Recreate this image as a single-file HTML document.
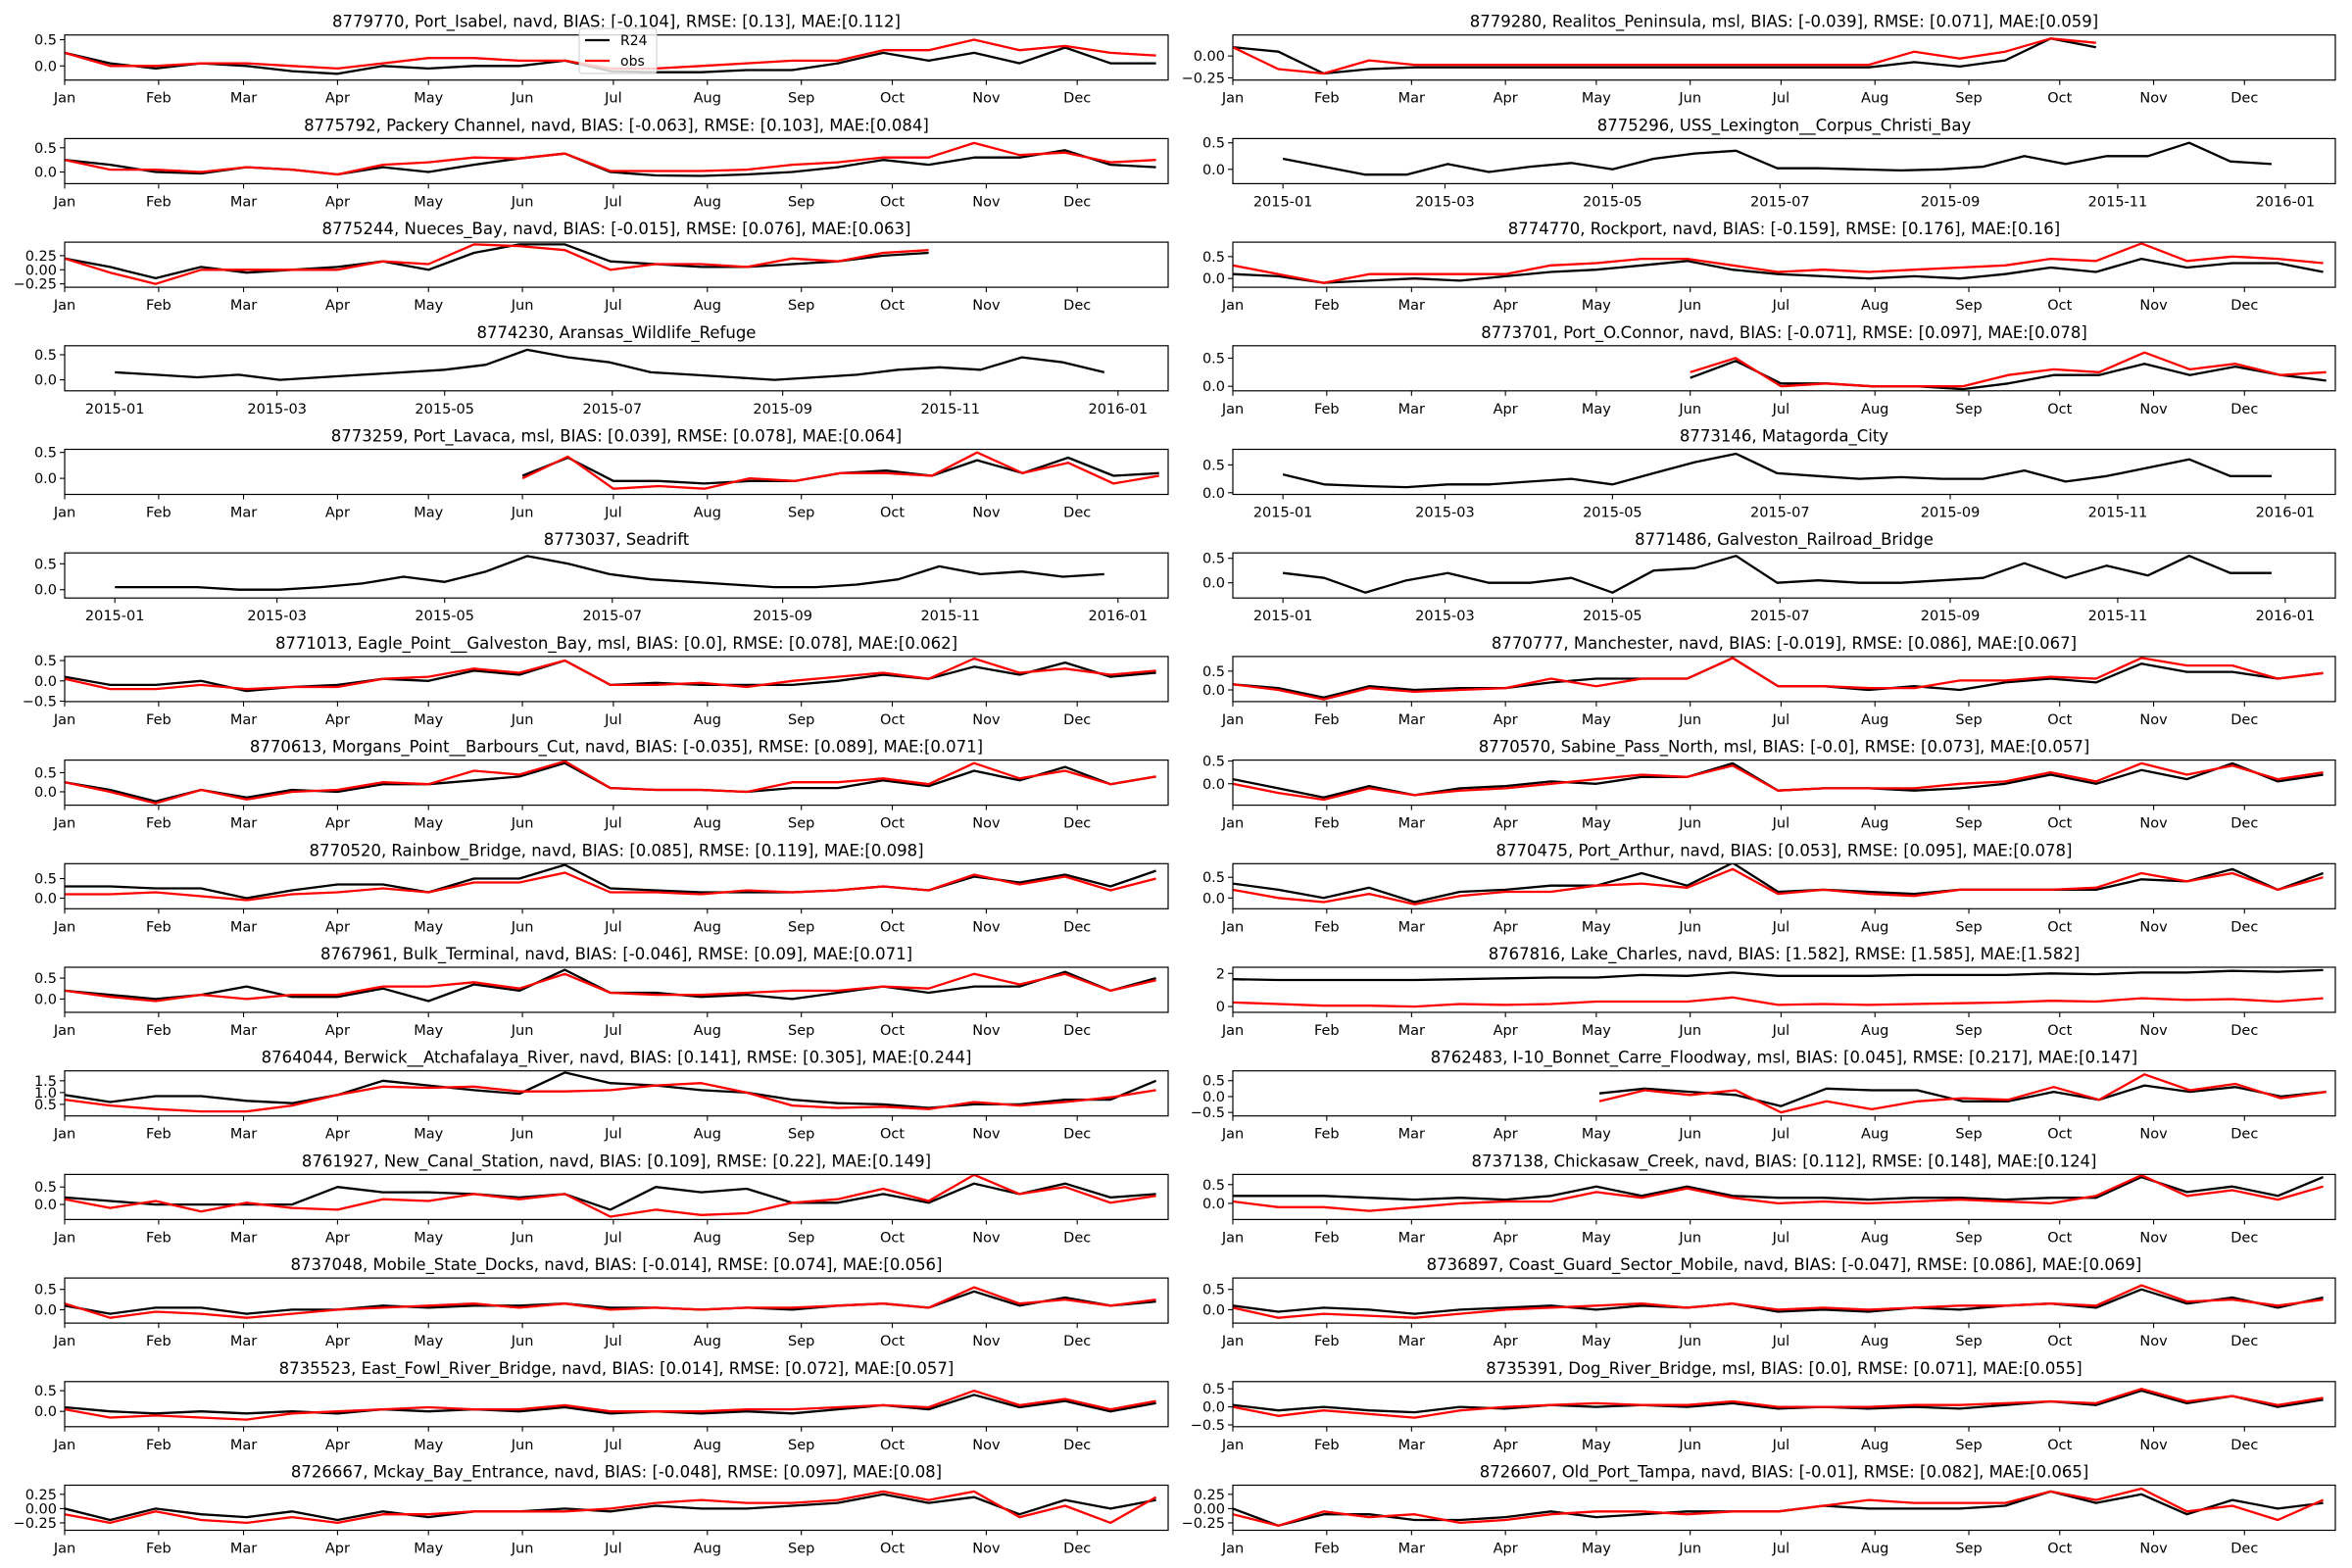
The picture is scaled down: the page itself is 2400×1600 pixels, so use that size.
<!DOCTYPE html>
<html><head><meta charset="utf-8"><style>
html,body{margin:0;padding:0;background:#fff;}
svg{display:block;font-family:"DejaVu Sans","Liberation Sans",sans-serif;}
</style></head><body>
<svg id="fig" width="2400" height="1600" viewBox="0 0 2400 1600"></svg>
<script>
// ---- data (values every 15 days from start day) ----
const r24_8779770=[0.25,0.05,-0.05,0.05,0.0,-0.1,-0.15,0.0,-0.05,0.0,0.0,0.1,-0.1,-0.12,-0.12,-0.08,-0.08,0.05,0.25,0.1,0.25,0.05,0.35,0.05,0.05];
const obs_8779770=[0.25,0.0,0.0,0.05,0.05,0.0,-0.05,0.05,0.15,0.15,0.1,0.1,-0.05,-0.05,0.0,0.05,0.1,0.1,0.3,0.3,0.5,0.3,0.38,0.25,0.2];
const r24_8775792=[0.25,0.15,0.0,-0.03,0.1,0.05,-0.05,0.1,0.0,0.15,0.28,0.38,0.0,-0.07,-0.08,-0.05,0.0,0.1,0.25,0.15,0.3,0.3,0.45,0.15,0.1];
const obs_8775792=[0.25,0.05,0.05,0.0,0.1,0.05,-0.05,0.15,0.2,0.3,0.28,0.38,0.02,0.02,0.02,0.05,0.15,0.2,0.3,0.3,0.6,0.35,0.4,0.2,0.25];
const r24_8775244=[0.2,0.05,-0.15,0.05,-0.05,0.0,0.05,0.15,0.0,0.3,0.45,0.45,0.15,0.1,0.05,0.05,0.1,0.15,0.25,0.3];
const obs_8775244=[0.2,-0.05,-0.25,0.0,0.0,0.0,0.0,0.15,0.1,0.45,0.42,0.35,0.0,0.1,0.1,0.05,0.2,0.15,0.3,0.35];
const r24_8774230=[0.15,0.1,0.05,0.1,0.0,0.05,0.1,0.15,0.2,0.3,0.6,0.45,0.35,0.15,0.1,0.05,0.0,0.05,0.1,0.2,0.25,0.2,0.45,0.35,0.15];
const r24_8773259=[0.05,0.4,-0.05,-0.05,-0.1,-0.05,-0.05,0.1,0.15,0.05,0.35,0.1,0.4,0.05,0.1];
const obs_8773259=[0.0,0.42,-0.2,-0.15,-0.2,0.0,-0.05,0.1,0.1,0.05,0.5,0.1,0.3,-0.1,0.05];
const r24_8773037=[0.05,0.05,0.05,0.0,0.0,0.05,0.12,0.25,0.15,0.35,0.65,0.5,0.3,0.2,0.15,0.1,0.05,0.05,0.1,0.2,0.45,0.3,0.35,0.25,0.3];
const r24_8771013=[0.1,-0.1,-0.1,0.0,-0.25,-0.15,-0.1,0.05,0.0,0.25,0.15,0.5,-0.1,-0.05,-0.1,-0.1,-0.1,0.0,0.15,0.05,0.35,0.15,0.45,0.1,0.2];
const obs_8771013=[0.05,-0.2,-0.2,-0.1,-0.2,-0.15,-0.15,0.05,0.1,0.3,0.2,0.5,-0.1,-0.1,-0.05,-0.15,0.0,0.1,0.2,0.05,0.55,0.2,0.3,0.15,0.25];
const r24_8770613=[0.25,0.05,-0.25,0.05,-0.15,0.05,0.0,0.2,0.2,0.3,0.4,0.75,0.1,0.05,0.05,0.0,0.1,0.1,0.3,0.15,0.55,0.3,0.65,0.2,0.4];
const obs_8770613=[0.25,0.0,-0.3,0.05,-0.2,0.0,0.05,0.25,0.2,0.55,0.45,0.8,0.1,0.05,0.05,0.0,0.25,0.25,0.35,0.2,0.75,0.35,0.55,0.2,0.4];
const r24_8770520=[0.3,0.3,0.25,0.25,0.0,0.2,0.35,0.35,0.15,0.5,0.5,0.85,0.25,0.2,0.15,0.15,0.15,0.2,0.3,0.2,0.55,0.4,0.6,0.3,0.7];
const obs_8770520=[0.1,0.1,0.15,0.05,-0.05,0.1,0.15,0.25,0.15,0.4,0.4,0.65,0.15,0.15,0.1,0.2,0.15,0.2,0.3,0.2,0.6,0.35,0.55,0.2,0.5];
const r24_8767961=[0.2,0.1,0.0,0.1,0.3,0.05,0.05,0.25,-0.05,0.35,0.2,0.7,0.15,0.15,0.05,0.1,0.0,0.15,0.3,0.15,0.3,0.3,0.65,0.2,0.5];
const obs_8767961=[0.2,0.05,-0.05,0.1,0.0,0.1,0.1,0.3,0.3,0.4,0.25,0.6,0.15,0.1,0.1,0.15,0.2,0.2,0.3,0.25,0.6,0.35,0.6,0.2,0.45];
const r24_8764044=[0.9,0.6,0.85,0.85,0.65,0.55,0.9,1.5,1.3,1.1,0.95,1.85,1.4,1.3,1.1,1.0,0.7,0.55,0.5,0.35,0.5,0.5,0.7,0.7,1.5];
const obs_8764044=[0.7,0.45,0.3,0.2,0.2,0.45,0.9,1.25,1.2,1.25,1.05,1.05,1.1,1.3,1.4,1.0,0.45,0.35,0.4,0.3,0.6,0.45,0.6,0.8,1.1];
const r24_8761927=[0.2,0.1,0.0,0.0,0.0,0.0,0.5,0.35,0.35,0.3,0.2,0.3,-0.15,0.5,0.35,0.45,0.05,0.05,0.3,0.05,0.6,0.3,0.6,0.2,0.3];
const obs_8761927=[0.15,-0.1,0.1,-0.2,0.05,-0.1,-0.15,0.15,0.1,0.3,0.15,0.3,-0.35,-0.15,-0.3,-0.25,0.05,0.15,0.45,0.1,0.85,0.3,0.5,0.05,0.25];
const r24_8737048=[0.1,-0.1,0.05,0.05,-0.1,0.0,0.0,0.1,0.05,0.1,0.1,0.15,0.05,0.05,0.0,0.05,0.0,0.1,0.15,0.05,0.45,0.1,0.3,0.1,0.2];
const obs_8737048=[0.15,-0.2,-0.05,-0.1,-0.2,-0.1,0.0,0.05,0.1,0.15,0.05,0.15,0.0,0.05,0.0,0.05,0.05,0.1,0.15,0.05,0.55,0.15,0.25,0.1,0.25];
const r24_8735523=[0.1,0.0,-0.05,0.0,-0.05,0.0,-0.05,0.05,0.0,0.05,0.0,0.1,-0.05,0.0,-0.05,0.0,-0.05,0.05,0.15,0.05,0.4,0.1,0.25,0.0,0.2];
const obs_8735523=[0.05,-0.15,-0.1,-0.15,-0.2,-0.05,0.0,0.05,0.1,0.05,0.05,0.15,0.0,0.0,0.0,0.05,0.05,0.1,0.15,0.1,0.5,0.15,0.3,0.05,0.25];
const r24_8726667=[0.0,-0.2,0.0,-0.1,-0.15,-0.05,-0.2,-0.05,-0.15,-0.05,-0.05,0.0,-0.05,0.05,0.0,0.0,0.05,0.1,0.25,0.1,0.2,-0.1,0.15,0.0,0.15];
const obs_8726667=[-0.1,-0.25,-0.05,-0.2,-0.25,-0.15,-0.25,-0.1,-0.1,-0.05,-0.05,-0.05,0.0,0.1,0.15,0.1,0.1,0.15,0.3,0.15,0.3,-0.15,0.05,-0.25,0.2];
const r24_8779280=[0.1,0.05,-0.2,-0.15,-0.13,-0.13,-0.13,-0.13,-0.13,-0.13,-0.13,-0.13,-0.13,-0.13,-0.13,-0.07,-0.12,-0.05,0.2,0.1];
const obs_8779280=[0.1,-0.15,-0.2,-0.05,-0.1,-0.1,-0.1,-0.1,-0.1,-0.1,-0.1,-0.1,-0.1,-0.1,-0.1,0.05,-0.03,0.05,0.2,0.15];
const r24_8775296=[0.2,0.05,-0.1,-0.1,0.1,-0.05,0.05,0.12,0.0,0.2,0.3,0.35,0.02,0.02,0.0,-0.02,0.0,0.05,0.25,0.1,0.25,0.25,0.5,0.15,0.1];
const r24_8774770=[0.1,0.05,-0.1,-0.05,0.0,-0.05,0.05,0.15,0.2,0.3,0.4,0.2,0.1,0.05,0.0,0.05,0.0,0.1,0.25,0.15,0.45,0.25,0.35,0.35,0.15];
const obs_8774770=[0.3,0.1,-0.1,0.1,0.1,0.1,0.1,0.3,0.35,0.45,0.45,0.3,0.15,0.2,0.15,0.2,0.25,0.3,0.45,0.4,0.8,0.4,0.5,0.45,0.35];
const r24_8773701=[0.15,0.45,0.05,0.05,0.0,0.0,-0.05,0.05,0.2,0.2,0.4,0.2,0.35,0.2,0.1];
const obs_8773701=[0.25,0.5,0.0,0.05,0.0,0.0,0.0,0.2,0.3,0.25,0.6,0.3,0.4,0.2,0.25];
const r24_8773146=[0.33,0.15,0.12,0.1,0.15,0.15,0.2,0.25,0.15,0.35,0.55,0.7,0.35,0.3,0.25,0.28,0.25,0.25,0.4,0.2,0.3,0.45,0.6,0.3,0.3];
const r24_8771486=[0.2,0.1,-0.2,0.05,0.2,0.0,0.0,0.1,-0.2,0.25,0.3,0.55,0.0,0.05,0.0,0.0,0.05,0.1,0.4,0.1,0.35,0.15,0.55,0.2,0.2];
const r24_8770777=[0.15,0.05,-0.2,0.1,0.0,0.05,0.05,0.2,0.3,0.3,0.3,0.85,0.1,0.1,0.0,0.1,0.0,0.2,0.3,0.2,0.7,0.48,0.48,0.3,0.45];
const obs_8770777=[0.15,0.0,-0.25,0.05,-0.05,0.0,0.05,0.3,0.1,0.3,0.3,0.85,0.1,0.1,0.05,0.05,0.25,0.25,0.35,0.3,0.85,0.65,0.65,0.3,0.45];
const r24_8770570=[0.1,-0.1,-0.3,-0.05,-0.25,-0.1,-0.05,0.05,0.0,0.15,0.15,0.45,-0.15,-0.1,-0.1,-0.15,-0.1,0.0,0.2,0.0,0.3,0.1,0.45,0.05,0.2];
const obs_8770570=[0.0,-0.2,-0.35,-0.1,-0.25,-0.15,-0.1,0.0,0.1,0.2,0.15,0.4,-0.15,-0.1,-0.1,-0.1,0.0,0.05,0.25,0.05,0.45,0.2,0.4,0.1,0.25];
const r24_8770475=[0.35,0.2,0.0,0.25,-0.1,0.15,0.2,0.3,0.3,0.6,0.3,0.85,0.15,0.2,0.15,0.1,0.2,0.2,0.2,0.2,0.45,0.4,0.7,0.2,0.6];
const obs_8770475=[0.2,0.0,-0.1,0.1,-0.15,0.05,0.15,0.15,0.3,0.35,0.25,0.7,0.1,0.2,0.1,0.05,0.2,0.2,0.2,0.25,0.6,0.4,0.6,0.2,0.5];
const r24_8767816=[1.65,1.6,1.6,1.6,1.6,1.65,1.7,1.75,1.75,1.9,1.85,2.05,1.85,1.85,1.85,1.9,1.9,1.9,2.0,1.95,2.05,2.05,2.15,2.1,2.2];
const obs_8767816=[0.25,0.15,0.05,0.05,0.0,0.15,0.1,0.15,0.3,0.3,0.3,0.55,0.1,0.15,0.1,0.15,0.2,0.25,0.35,0.3,0.5,0.4,0.45,0.3,0.5];
const r24_8762483=[0.1,0.25,0.15,0.05,-0.3,0.25,0.2,0.2,-0.15,-0.15,0.15,-0.1,0.35,0.15,0.3,0.0,0.15];
const obs_8762483=[-0.15,0.2,0.05,0.2,-0.5,-0.15,-0.4,-0.15,-0.05,-0.1,0.3,-0.1,0.7,0.2,0.4,-0.05,0.15];
const r24_8737138=[0.2,0.2,0.2,0.15,0.1,0.15,0.1,0.2,0.45,0.2,0.45,0.2,0.15,0.15,0.1,0.15,0.15,0.1,0.15,0.15,0.7,0.3,0.45,0.2,0.7];
const obs_8737138=[0.05,-0.1,-0.1,-0.2,-0.1,0.0,0.05,0.05,0.3,0.15,0.4,0.15,0.0,0.05,0.0,0.05,0.1,0.05,0.0,0.2,0.75,0.2,0.35,0.1,0.45];
const r24_8736897=[0.1,-0.05,0.05,0.0,-0.1,0.0,0.05,0.1,0.0,0.1,0.05,0.15,-0.05,0.0,-0.05,0.05,0.0,0.1,0.15,0.05,0.5,0.15,0.3,0.05,0.3];
const obs_8736897=[0.05,-0.2,-0.1,-0.15,-0.2,-0.1,0.0,0.05,0.1,0.15,0.05,0.15,0.0,0.05,0.0,0.05,0.1,0.1,0.15,0.1,0.6,0.2,0.25,0.1,0.25];
const r24_8735391=[0.05,-0.1,0.0,-0.1,-0.15,0.0,-0.05,0.05,0.0,0.05,0.0,0.1,-0.05,0.0,-0.05,0.0,-0.05,0.05,0.15,0.05,0.45,0.1,0.3,0.0,0.2];
const obs_8735391=[0.0,-0.25,-0.1,-0.2,-0.3,-0.1,0.0,0.05,0.1,0.05,0.05,0.15,0.0,0.0,0.0,0.05,0.05,0.1,0.15,0.1,0.5,0.15,0.3,0.05,0.25];
const r24_8726607=[0.0,-0.3,-0.1,-0.1,-0.2,-0.2,-0.15,-0.05,-0.15,-0.1,-0.05,-0.05,-0.05,0.05,0.0,0.0,0.0,0.05,0.3,0.1,0.25,-0.1,0.15,0.0,0.1];
const obs_8726607=[-0.1,-0.3,-0.05,-0.15,-0.1,-0.25,-0.2,-0.1,-0.05,-0.05,-0.1,-0.05,-0.05,0.05,0.15,0.1,0.1,0.1,0.3,0.15,0.35,-0.05,0.05,-0.2,0.15];

const monthLabels=["Jan","Feb","Mar","Apr","May","Jun","Jul","Aug","Sep","Oct","Nov","Dec"];
const monthDays=[0,31,59,90,120,151,181,212,243,273,304,334];
const dateLabels=["2015-01","2015-03","2015-05","2015-07","2015-09","2015-11","2016-01"];
const dateDays=[0,59,120,181,243,304,365];

const titles=[
"8779770, Port_Isabel, navd, BIAS: [-0.104], RMSE: [0.13], MAE:[0.112]",
"8779280, Realitos_Peninsula, msl, BIAS: [-0.039], RMSE: [0.071], MAE:[0.059]",
"8775792, Packery Channel, navd, BIAS: [-0.063], RMSE: [0.103], MAE:[0.084]",
"8775296, USS_Lexington__Corpus_Christi_Bay",
"8775244, Nueces_Bay, navd, BIAS: [-0.015], RMSE: [0.076], MAE:[0.063]",
"8774770, Rockport, navd, BIAS: [-0.159], RMSE: [0.176], MAE:[0.16]",
"8774230, Aransas_Wildlife_Refuge",
"8773701, Port_O.Connor, navd, BIAS: [-0.071], RMSE: [0.097], MAE:[0.078]",
"8773259, Port_Lavaca, msl, BIAS: [0.039], RMSE: [0.078], MAE:[0.064]",
"8773146, Matagorda_City",
"8773037, Seadrift",
"8771486, Galveston_Railroad_Bridge",
"8771013, Eagle_Point__Galveston_Bay, msl, BIAS: [0.0], RMSE: [0.078], MAE:[0.062]",
"8770777, Manchester, navd, BIAS: [-0.019], RMSE: [0.086], MAE:[0.067]",
"8770613, Morgans_Point__Barbours_Cut, navd, BIAS: [-0.035], RMSE: [0.089], MAE:[0.071]",
"8770570, Sabine_Pass_North, msl, BIAS: [-0.0], RMSE: [0.073], MAE:[0.057]",
"8770520, Rainbow_Bridge, navd, BIAS: [0.085], RMSE: [0.119], MAE:[0.098]",
"8770475, Port_Arthur, navd, BIAS: [0.053], RMSE: [0.095], MAE:[0.078]",
"8767961, Bulk_Terminal, navd, BIAS: [-0.046], RMSE: [0.09], MAE:[0.071]",
"8767816, Lake_Charles, navd, BIAS: [1.582], RMSE: [1.585], MAE:[1.582]",
"8764044, Berwick__Atchafalaya_River, navd, BIAS: [0.141], RMSE: [0.305], MAE:[0.244]",
"8762483, I-10_Bonnet_Carre_Floodway, msl, BIAS: [0.045], RMSE: [0.217], MAE:[0.147]",
"8761927, New_Canal_Station, navd, BIAS: [0.109], RMSE: [0.22], MAE:[0.149]",
"8737138, Chickasaw_Creek, navd, BIAS: [0.112], RMSE: [0.148], MAE:[0.124]",
"8737048, Mobile_State_Docks, navd, BIAS: [-0.014], RMSE: [0.074], MAE:[0.056]",
"8736897, Coast_Guard_Sector_Mobile, navd, BIAS: [-0.047], RMSE: [0.086], MAE:[0.069]",
"8735523, East_Fowl_River_Bridge, navd, BIAS: [0.014], RMSE: [0.072], MAE:[0.057]",
"8735391, Dog_River_Bridge, msl, BIAS: [0.0], RMSE: [0.071], MAE:[0.055]",
"8726667, Mckay_Bay_Entrance, navd, BIAS: [-0.048], RMSE: [0.097], MAE:[0.08]",
"8726607, Old_Port_Tampa, navd, BIAS: [-0.01], RMSE: [0.082], MAE:[0.065]"
];
const T2=[-0.25,0,0.25], T1=[0,0.5], T3=[-0.5,0,0.5];
const panels=[
{r24:r24_8779770,obs:obs_8779770,start:0,date:false,yl:[-0.27,0.59],ticks:T1,labels:["0.0","0.5"]},
{r24:r24_8779280,obs:obs_8779280,start:0,date:false,yl:[-0.275,0.24],ticks:[-0.25,0],labels:["\u22120.25","0.00"]},
{r24:r24_8775792,obs:obs_8775792,start:0,date:false,yl:[-0.24,0.69],ticks:T1,labels:["0.0","0.5"]},
{r24:r24_8775296,obs:null,start:0,date:true,yl:[-0.27,0.58],ticks:T1,labels:["0.0","0.5"]},
{r24:r24_8775244,obs:obs_8775244,start:0,date:false,yl:[-0.31,0.49],ticks:T2,labels:["\u22120.25","0.00","0.25"]},
{r24:r24_8774770,obs:obs_8774770,start:0,date:false,yl:[-0.2,0.83],ticks:T1,labels:["0.0","0.5"]},
{r24:r24_8774230,obs:null,start:0,date:true,yl:[-0.22,0.68],ticks:T1,labels:["0.0","0.5"]},
{r24:r24_8773701,obs:obs_8773701,start:151,date:false,yl:[-0.08,0.72],ticks:T1,labels:["0.0","0.5"]},
{r24:r24_8773259,obs:obs_8773259,start:151,date:false,yl:[-0.31,0.56],ticks:T1,labels:["0.0","0.5"]},
{r24:r24_8773146,obs:null,start:0,date:true,yl:[-0.03,0.78],ticks:T1,labels:["0.0","0.5"]},
{r24:r24_8773037,obs:null,start:0,date:true,yl:[-0.16,0.71],ticks:T1,labels:["0.0","0.5"]},
{r24:r24_8771486,obs:null,start:0,date:true,yl:[-0.31,0.61],ticks:T1,labels:["0.0","0.5"]},
{r24:r24_8771013,obs:obs_8771013,start:0,date:false,yl:[-0.51,0.6],ticks:T3,labels:["\u22120.5","0.0","0.5"]},
{r24:r24_8770777,obs:obs_8770777,start:0,date:false,yl:[-0.31,0.89],ticks:T1,labels:["0.0","0.5"]},
{r24:r24_8770613,obs:obs_8770613,start:0,date:false,yl:[-0.35,0.83],ticks:T1,labels:["0.0","0.5"]},
{r24:r24_8770570,obs:obs_8770570,start:0,date:false,yl:[-0.47,0.52],ticks:T1,labels:["0.0","0.5"]},
{r24:r24_8770520,obs:obs_8770520,start:0,date:false,yl:[-0.27,0.88],ticks:T1,labels:["0.0","0.5"]},
{r24:r24_8770475,obs:obs_8770475,start:0,date:false,yl:[-0.26,0.83],ticks:T1,labels:["0.0","0.5"]},
{r24:r24_8767961,obs:obs_8767961,start:0,date:false,yl:[-0.32,0.76],ticks:T1,labels:["0.0","0.5"]},
{r24:r24_8767816,obs:obs_8767816,start:0,date:false,yl:[-0.35,2.37],ticks:[0,2],labels:["0","2"]},
{r24:r24_8764044,obs:obs_8764044,start:0,date:false,yl:[0.01,1.92],ticks:[0.5,1,1.5],labels:["0.5","1.0","1.5"]},
{r24:r24_8762483,obs:obs_8762483,start:121,date:false,yl:[-0.61,0.81],ticks:T3,labels:["\u22120.5","0.0","0.5"]},
{r24:r24_8761927,obs:obs_8761927,start:0,date:false,yl:[-0.43,0.86],ticks:T1,labels:["0.0","0.5"]},
{r24:r24_8737138,obs:obs_8737138,start:0,date:false,yl:[-0.43,0.77],ticks:T1,labels:["0.0","0.5"]},
{r24:r24_8737048,obs:obs_8737048,start:0,date:false,yl:[-0.33,0.78],ticks:T1,labels:["0.0","0.5"]},
{r24:r24_8736897,obs:obs_8736897,start:0,date:false,yl:[-0.33,0.78],ticks:T1,labels:["0.0","0.5"]},
{r24:r24_8735523,obs:obs_8735523,start:0,date:false,yl:[-0.37,0.72],ticks:T1,labels:["0.0","0.5"]},
{r24:r24_8735391,obs:obs_8735391,start:0,date:false,yl:[-0.55,0.7],ticks:T3,labels:["\u22120.5","0.0","0.5"]},
{r24:r24_8726667,obs:obs_8726667,start:0,date:false,yl:[-0.38,0.41],ticks:T2,labels:["\u22120.25","0.00","0.25"]},
{r24:r24_8726607,obs:obs_8726607,start:0,date:false,yl:[-0.38,0.41],ticks:T2,labels:["\u22120.25","0.00","0.25"]}
];

const NS="http://www.w3.org/2000/svg";
const svg=document.getElementById('fig');
function mk(tag,attrs,parent){const e=document.createElementNS(NS,tag);for(const k in attrs)e.setAttribute(k,attrs[k]);(parent||svg).appendChild(e);return e;}
const colX=[[66,1192],[1258,2383]];
const TOP0=35.7, PITCH=105.7, H=46;

panels.forEach((p,i)=>{
  const col=i%2,row=Math.floor(i/2);
  const x0=colX[col][0],x1=colX[col][1],y0=TOP0+row*PITCH,y1=y0+H;
  const d0=p.date?-18.25:0,d1=p.date?383.25:364;
  const xs=d=>x0+(d-d0)/(d1-d0)*(x1-x0);
  const ys=v=>y1-(v-p.yl[0])/(p.yl[1]-p.yl[0])*H;
  const g=mk('g',{});
  
  
  const t=mk('text',{x:(x0+x1)/2,y:y0-8,'text-anchor':'middle','font-size':'16.5'},g);
  t.textContent=titles[i];
  
  
  const cid='c'+i;
  const cp=mk('clipPath',{id:cid},g);mk('rect',{x:x0,y:y0,width:x1-x0,height:H},cp);
  const line=(arr,color,name)=>{
    const pts=arr.map((v,k)=>xs(p.start+k*15).toFixed(1)+','+ys(v).toFixed(1)).join(' ');
    const pl=mk('polyline',{points:pts,fill:'none',stroke:color,'stroke-width':'2.3','stroke-linejoin':'round','clip-path':'url(#'+cid+')'},g);
    
    
  };
  line(p.r24,'#000','r24-line');
  if(p.obs) line(p.obs,'#ff0000','obs-line');
  const ax=mk('rect',{x:x0,y:y0,width:x1-x0,height:H,fill:'none',stroke:'#000','stroke-width':'1.2'},g);
  
  
  const xd=p.date?dateDays:monthDays, xl=p.date?dateLabels:monthLabels;
  xd.forEach((d,k)=>{
    const x=xs(d);
    mk('line',{x1:x,x2:x,y1:y1,y2:y1+5,stroke:'#000','stroke-width':'1.1'},g);
    const tl=mk('text',{x:x,y:y1+23,'text-anchor':'middle','font-size':'14.5'},g);
    tl.textContent=xl[k];
    
    
  });
  p.ticks.forEach((v,k)=>{
    const y=ys(v);
    mk('line',{x1:x0-5,x2:x0,y1:y,y2:y,stroke:'#000','stroke-width':'1.1'},g);
    const tl=mk('text',{x:x0-8,y:y+5,'text-anchor':'end','font-size':'14.5'},g);
    tl.textContent=p.labels[k];
    
    
  });
});
const lg=mk('g',{});


mk('rect',{x:591,y:29,width:79,height:46,rx:3,fill:'#fff','fill-opacity':'0.8',stroke:'#ccc','stroke-width':'1'},lg);
mk('line',{x1:597,x2:622,y1:41,y2:41,stroke:'#000','stroke-width':'2.3'},lg);
mk('line',{x1:597,x2:622,y1:62,y2:62,stroke:'#ff0000','stroke-width':'2.3'},lg);
const l1=mk('text',{x:633,y:46,'font-size':'14'},lg);l1.textContent='R24';


const l2=mk('text',{x:633,y:67,'font-size':'14'},lg);l2.textContent='obs';


</script>
</body></html>
